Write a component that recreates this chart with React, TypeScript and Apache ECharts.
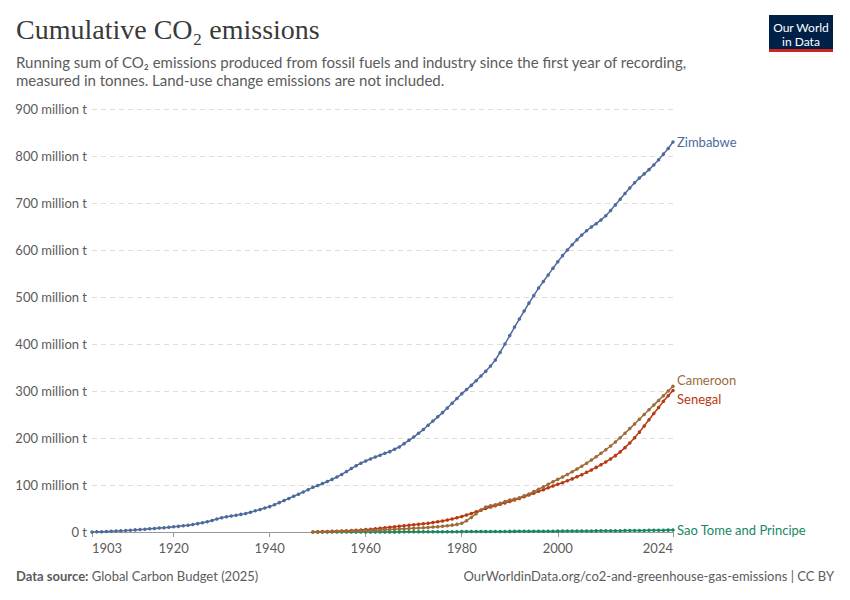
import React, { useEffect, useRef } from 'react';
import * as echarts from 'echarts';

// cumulative emissions, million tonnes, one value per year
const zimbabweStart = 1903;
const zimbabwe = [
  0.1, 0.3, 0.6, 1.0, 1.4, 1.9, 2.5, 3.1, 3.8, 4.5,
  5.3, 6.0, 6.8, 7.6, 8.4, 9.2, 10.0, 11.0, 12.0, 13.2,
  14.5, 16.0, 17.8, 19.8, 22.0, 24.5, 27.5, 30.5, 32.5, 34.0,
  35.5, 37.5, 39.5, 42.0, 45.0, 48.0, 51.0, 54.0, 58.0, 62.5,
  67.0, 71.5, 76.0, 80.5, 85.0, 90.0, 95.0, 99.0, 103.0, 107.5,
  112.0, 117.0, 122.5, 128.5, 135.0, 141.0, 146.5, 151.0, 155.5, 159.5,
  163.5, 167.5, 171, 176, 181, 188, 195, 202, 210, 218,
  227, 236, 245, 254, 264, 274, 284, 294, 303, 312,
  322, 332, 342, 353, 366, 382, 400, 418, 436, 453,
  470, 487, 503, 519, 533, 547, 561, 575, 588, 600,
  611, 622, 632, 641, 649, 656, 664, 673, 684, 696,
  708, 720, 732, 743, 753, 762, 771, 781, 792, 804,
  816, 830,
];

const cameroonStart = 1949;
const cameroon = [
  0.1, 0.3, 0.5, 0.7, 0.9, 1.1, 1.4, 1.7, 2.0, 2.3,
  2.7, 3.1, 3.5, 3.9, 4.3, 4.8, 5.3, 5.8, 6.3, 6.8,
  7.3, 7.9, 8.5, 9.1, 9.8, 10.5, 11.3, 12.2, 13.3, 14.6,
  16.2, 18.5, 24.0, 31.0, 39.0, 47.0, 53.0, 56.0, 58.0, 61.0,
  65.0, 68.0, 70.0, 73.0, 77.0, 81.0, 86.0, 91.0, 96.0, 101.5,
  107.0, 112.0, 117.0, 122.5, 128.0, 134.0, 140.0, 146.5, 153.0, 160.0,
  167.5, 175.0, 183.0, 191.5, 200.5, 210.0, 220.0, 230.0, 240.0, 250.0,
  260.0, 270.0, 280.0, 290.0, 300.0, 310.0,
];

const senegalStart = 1949;
const senegal = [
  0.2, 0.5, 0.8, 1.1, 1.4, 1.8, 2.2, 2.7, 3.2, 3.8,
  4.4, 5.2, 6.0, 7.0, 8.0, 9.0, 10.0, 11.0, 12.2, 13.3,
  14.3, 15.3, 16.4, 17.5, 18.7, 20.0, 21.6, 23.4, 25.4, 27.6,
  30.2, 33.0, 36.0, 39.5, 43.0, 46.5, 50.0, 53.0, 56.0, 59.0,
  62.0, 65.0, 68.0, 71.5, 75.0, 78.5, 82.5, 86.5, 90.0, 94.0,
  98.0, 101.5, 105.0, 109.0, 113.0, 117.5, 122.0, 127.0, 132.0, 137.5,
  143.0, 149.0, 155.5, 162.5, 170.5, 179.5, 189.5, 200.5, 212.5, 225.5,
  239.0, 252.0, 265.0, 278.0, 290.0, 301.0,
];

const saoTomeStart = 1950;
const saoTome = [
  0.01, 0.02, 0.03, 0.04, 0.05, 0.06, 0.07, 0.08, 0.09, 0.10,
  0.12, 0.14, 0.16, 0.18, 0.20, 0.23, 0.26, 0.29, 0.32, 0.35,
  0.39, 0.43, 0.47, 0.51, 0.55, 0.59, 0.63, 0.67, 0.71, 0.75,
  0.80, 0.85, 0.90, 0.95, 1.00, 1.05, 1.10, 1.15, 1.20, 1.25,
  1.30, 1.35, 1.40, 1.45, 1.50, 1.55, 1.60, 1.66, 1.72, 1.78,
  1.84, 1.90, 1.96, 2.03, 2.10, 2.17, 2.25, 2.33, 2.41, 2.49,
  2.58, 2.67, 2.76, 2.86, 2.96, 3.06, 3.17, 3.28, 3.39, 3.51,
  3.63, 3.75, 3.87, 3.99, 4.12,
];

const yearTicks = [1903, 1920, 1940, 1960, 1980, 2000, 2024];

const FONT = 'Lato, "Noto Sans", sans-serif';
const GREY = '#5b5b5b';

const toPairs = (start: number, vals: number[]) =>
  vals.map((v, i) => [start + i, v * 1e6]);

const makeSeries = (
  name: string,
  color: string,
  data: number[][],
  offset: number[] = [0, 0]
) => ({
  name,
  type: 'line',
  data,
  symbol: 'circle',
  symbolSize: 3.5,
  showSymbol: true,
  lineStyle: { color, width: 1.5 },
  itemStyle: { color },
  emphasis: { disabled: true },
  endLabel: {
    show: true,
    formatter: '{a}',
    color,
    fontFamily: FONT,
    fontSize: 13,
    distance: 4,
    offset,
  },
});

const App: React.FC = () => {
  const chartRef = useRef<HTMLDivElement>(null);

  useEffect(() => {
    if (!chartRef.current) return;
    document.body.style.margin = '0';
    const chart = echarts.init(chartRef.current, undefined, { renderer: 'svg' });

    const option = {
      animation: false,
      backgroundColor: '#ffffff',
      grid: { left: 92, right: 177, top: 109, bottom: 68 },
      xAxis: {
        type: 'value',
        min: 1903,
        max: 2024,
        axisLine: { show: true, lineStyle: { color: '#999999', width: 1 } },
        axisTick: {
          show: true,
          length: 5,
          lineStyle: { color: '#999999' },
          customValues: yearTicks,
        },
        axisLabel: {
          color: GREY,
          fontFamily: FONT,
          fontSize: 13,
          margin: 9,
          customValues: yearTicks,
          alignMinLabel: 'left',
          alignMaxLabel: 'right',
          formatter: (v: number) => String(v),
        },
        splitLine: { show: false },
      },
      yAxis: {
        type: 'value',
        min: 0,
        max: 900e6,
        interval: 100e6,
        axisLine: { show: false },
        axisTick: { show: false },
        axisLabel: {
          color: GREY,
          fontFamily: FONT,
          fontSize: 13,
          margin: 5,
          formatter: (v: number) => (v === 0 ? '0 t' : `${v / 1e6} million t`),
        },
        splitLine: { lineStyle: { color: '#dddddd', type: [5, 4] } },
      },
      graphic: [
        {
          type: 'text',
          left: 16,
          top: 15,
          style: {
            text: 'Cumulative CO₂ emissions',
            font: '28px "Liberation Serif", serif',
            fill: '#3a3a3a',
          },
        },
        {
          type: 'text',
          left: 16,
          top: 53,
          style: {
            text:
              'Running sum of CO₂ emissions produced from fossil fuels and industry since the first year of recording,\nmeasured in tonnes. Land-use change emissions are not included.',
            fontFamily: FONT,
            fontSize: 15,
            lineHeight: 18,
            fill: GREY,
          },
        },
        { type: 'rect', shape: { x: 769, y: 15, width: 64, height: 37 }, style: { fill: '#002147' } },
        { type: 'rect', shape: { x: 769, y: 49, width: 64, height: 3 }, style: { fill: '#ce261e' } },
        {
          type: 'text',
          x: 801,
          y: 27,
          style: {
            text: 'Our World',
            fontFamily: FONT,
            fontSize: 12,
            fill: '#ffffff',
            align: 'center',
            verticalAlign: 'middle',
          },
        },
        {
          type: 'text',
          x: 801,
          y: 41,
          style: {
            text: 'in Data',
            fontFamily: FONT,
            fontSize: 12,
            fill: '#ffffff',
            align: 'center',
            verticalAlign: 'middle',
          },
        },
        {
          type: 'text',
          left: 16,
          top: 569,
          style: {
            text: '{b|Data source:} Global Carbon Budget (2025)',
            fontFamily: FONT,
            fontSize: 13,
            fill: GREY,
            rich: { b: { fontFamily: FONT, fontSize: 13, fontWeight: 'bold', fill: GREY } },
          },
        },
        {
          type: 'text',
          right: 16,
          top: 569,
          style: {
            text: 'OurWorldinData.org/co2-and-greenhouse-gas-emissions | CC BY',
            fontFamily: FONT,
            fontSize: 13,
            fill: GREY,
          },
        },
      ],
      series: [
        makeSeries('Sao Tome and Principe', '#18875f', toPairs(saoTomeStart, saoTome)),
        makeSeries('Senegal', '#b8380f', toPairs(senegalStart, senegal), [0, 8]),
        makeSeries('Cameroon', '#9c6b38', toPairs(cameroonStart, cameroon), [0, -6]),
        makeSeries('Zimbabwe', '#4c6a9c', toPairs(zimbabweStart, zimbabwe)),
      ],
    };

    chart.setOption(option as any);
    return () => chart.dispose();
  }, []);

  return <div ref={chartRef} style={{ width: 850, height: 600 }} />;
};

export default App;
